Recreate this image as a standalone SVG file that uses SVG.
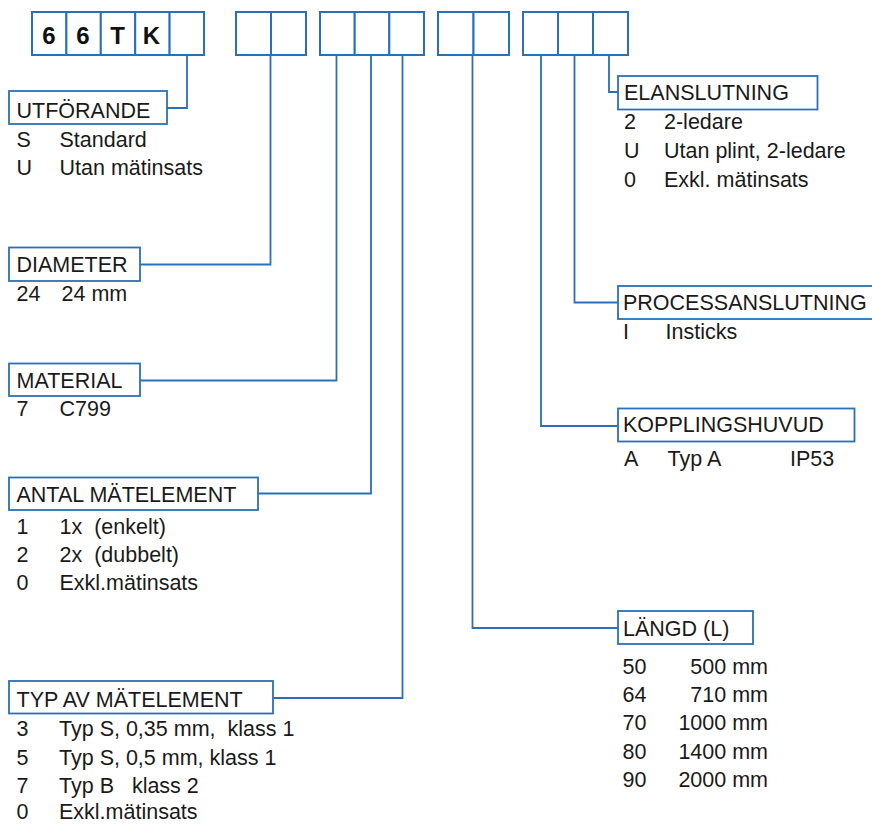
<svg xmlns="http://www.w3.org/2000/svg" width="872" height="825" viewBox="0 0 872 825">
<style>
.cell{fill:#fff;stroke:#2b70b6;stroke-width:2}
.lbl{fill:#fff;stroke:#2b70b6;stroke-width:1.8}
.con{fill:none;stroke:#2b70b6;stroke-width:1.8}
text{font-family:"Liberation Sans",Arial,sans-serif;font-size:21.5px;fill:#1a1a1a}
.big{font-size:24px;font-weight:bold;text-anchor:middle;fill:#111}
.end{text-anchor:end}
</style>
<rect width="872" height="825" fill="#fff"/>
<g id="code-boxes">
<rect class="cell" x="32" y="12" width="34.4" height="43"/>
<rect class="cell" x="66.4" y="12" width="34.4" height="43"/>
<rect class="cell" x="100.8" y="12" width="34.4" height="43"/>
<rect class="cell" x="135.2" y="12" width="34.4" height="43"/>
<rect class="cell" x="169.6" y="12" width="34.4" height="43"/>
<text class="big" x="49" y="44">6</text>
<text class="big" x="83" y="44">6</text>
<text class="big" x="117.5" y="44">T</text>
<text class="big" x="151.5" y="44">K</text>
<rect class="cell" x="236" y="12" width="35" height="43"/>
<rect class="cell" x="271" y="12" width="35" height="43"/>
<rect class="cell" x="320" y="12" width="34.7" height="43"/>
<rect class="cell" x="354.7" y="12" width="34.6" height="43"/>
<rect class="cell" x="389.3" y="12" width="34.7" height="43"/>
<rect class="cell" x="438" y="12" width="35.5" height="43"/>
<rect class="cell" x="473.5" y="12" width="35.5" height="43"/>
<rect class="cell" x="523" y="12" width="35" height="43"/>
<rect class="cell" x="558" y="12" width="35" height="43"/>
<rect class="cell" x="593" y="12" width="35" height="43"/>
</g>
<g id="connectors">
<polyline class="con" points="187,55 187,108 167,108"/>
<polyline class="con" points="270.5,55 270.5,264.5 140,264.5"/>
<polyline class="con" points="336.5,55 336.5,380.5 140,380.5"/>
<polyline class="con" points="371,55 371,493.5 258,493.5"/>
<polyline class="con" points="402.5,55 402.5,698 273,698"/>
<polyline class="con" points="472.5,55 472.5,628 618,628"/>
<polyline class="con" points="541,55 541,426 618,426"/>
<polyline class="con" points="574.5,55 574.5,302.5 618,302.5"/>
<polyline class="con" points="609,55 609,92 618,92"/>
</g>
<g id="utforande">
<rect class="lbl" x="9" y="91" width="158" height="33"/>
<text x="16.5" y="118">UTFÖRANDE</text>
<text x="16.5" y="146.5">S</text><text x="59.5" y="146.5">Standard</text>
<text x="16.5" y="175">U</text><text x="59.5" y="175">Utan mätinsats</text>
</g>
<g id="diameter">
<rect class="lbl" x="9" y="247.5" width="131" height="33.5"/>
<text x="16.5" y="272">DIAMETER</text>
<text x="16.5" y="300.5">24</text><text x="61.5" y="300.5">24 mm</text>
</g>
<g id="material">
<rect class="lbl" x="9" y="363.5" width="131" height="32.5"/>
<text x="16.5" y="388">MATERIAL</text>
<text x="16.5" y="416">7</text><text x="59.5" y="416">C799</text>
</g>
<g id="antal">
<rect class="lbl" x="9" y="477.5" width="249" height="32.5"/>
<text x="16.5" y="502">ANTAL MÄTELEMENT</text>
<text x="16.5" y="533.5">1</text><text x="59.5" y="533.5" xml:space="preserve">1x  (enkelt)</text>
<text x="16.5" y="562">2</text><text x="59.5" y="562" xml:space="preserve">2x  (dubbelt)</text>
<text x="16.5" y="590">0</text><text x="59.5" y="590">Exkl.mätinsats</text>
</g>
<g id="typ">
<rect class="lbl" x="9" y="681" width="264" height="32.5"/>
<text x="16.5" y="707">TYP AV MÄTELEMENT</text>
<text x="16.5" y="736">3</text><text x="59" y="736" xml:space="preserve">Typ S, 0,35 mm,  klass 1</text>
<text x="16.5" y="764.5">5</text><text x="59" y="764.5">Typ S, 0,5 mm, klass 1</text>
<text x="16.5" y="792.5">7</text><text x="59" y="792.5" xml:space="preserve">Typ B   klass 2</text>
<text x="16.5" y="819">0</text><text x="59" y="819">Exkl.mätinsats</text>
</g>
<g id="elanslutning">
<rect class="lbl" x="618" y="76" width="199.5" height="33.5"/>
<text x="624" y="99.5">ELANSLUTNING</text>
<text x="624" y="128.5">2</text><text x="664" y="128.5">2-ledare</text>
<text x="624" y="157.5">U</text><text x="664" y="157.5">Utan plint, 2-ledare</text>
<text x="624" y="186.5">0</text><text x="664" y="186.5">Exkl. mätinsats</text>
</g>
<g id="processanslutning">
<rect class="lbl" x="618" y="286" width="270" height="33"/>
<text x="623" y="310">PROCESSANSLUTNING</text>
<text x="623" y="339">I</text><text x="665.5" y="339">Insticks</text>
</g>
<g id="kopplingshuvud">
<rect class="lbl" x="618" y="408.5" width="236.5" height="33"/>
<text x="623" y="432">KOPPLINGSHUVUD</text>
<text x="624" y="466">A</text><text x="667.5" y="466">Typ A</text><text x="790" y="466">IP53</text>
</g>
<g id="langd">
<rect class="lbl" x="618" y="611" width="135" height="33"/>
<text x="623" y="636">LÄNGD (L)</text>
<text x="622.5" y="674">50</text><text class="end" x="768" y="674">500 mm</text>
<text x="622.5" y="702">64</text><text class="end" x="768" y="702">710 mm</text>
<text x="622.5" y="730">70</text><text class="end" x="768" y="730">1000 mm</text>
<text x="622.5" y="758.5">80</text><text class="end" x="768" y="758.5">1400 mm</text>
<text x="622.5" y="787">90</text><text class="end" x="768" y="787">2000 mm</text>
</g>
</svg>
